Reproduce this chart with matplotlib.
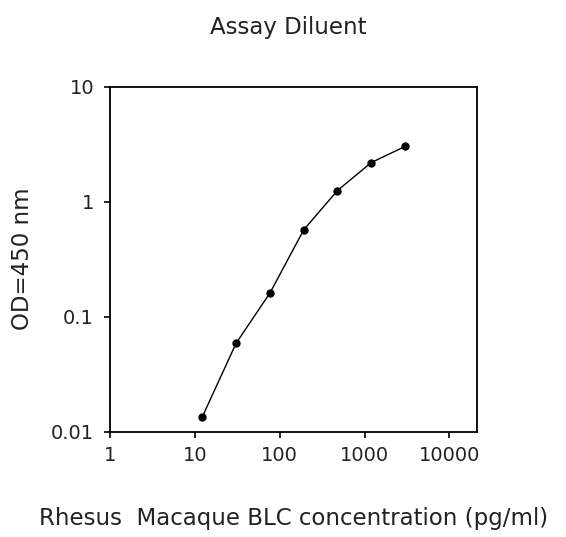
import matplotlib
matplotlib.use("Agg")
import matplotlib.pyplot as plt
from matplotlib.ticker import FixedLocator, FixedFormatter, NullLocator

# standard curve values
conc = [12.3, 30.7, 76.8, 192, 480, 1200, 3000]
od = [0.0135, 0.0587, 0.160, 0.567, 1.246, 2.18, 3.01]

x_ticks = [1, 10, 100, 1000, 10000]
x_labels = ["1", "10", "100", "1000", "10000"]
y_ticks = [0.01, 0.1, 1, 10]
y_labels = ["0.01", "0.1", "1", "10"]

plt.rcParams['font.family'] = ['DejaVu Sans']

fig = plt.figure(figsize=(5.66, 5.37), dpi=100)
ax = fig.add_axes([110 / 566, 1 - 431.5 / 537, (477 - 110) / 566, (431.5 - 86.5) / 537])

ax.plot(conc, od, color='black', lw=1.0, marker='o', markersize=5)

ax.set_xscale('log')
ax.set_yscale('log')
ax.set_xlim(1, 10 ** ((477 - 109.3) / 85))
ax.set_ylim(0.01, 10)

ax.xaxis.set_major_locator(FixedLocator(x_ticks))
ax.xaxis.set_major_formatter(FixedFormatter(x_labels))
ax.xaxis.set_minor_locator(NullLocator())
ax.yaxis.set_major_locator(FixedLocator(y_ticks))
ax.yaxis.set_major_formatter(FixedFormatter(y_labels))
ax.yaxis.set_minor_locator(NullLocator())

ax.tick_params(direction='out', length=4.5, width=1.2, labelsize=14, labelcolor='#222222')
ax.tick_params(axis='x', pad=6)
ax.tick_params(axis='y', pad=7)
for s in ax.spines.values():
    s.set_linewidth(1.3)

ax.set_xlabel('Rhesus  Macaque BLC concentration (pg/ml)', fontsize=16.5, labelpad=30, color='#222222')
ax.set_ylabel('OD=450 nm', fontsize=16.5, labelpad=12, color='#222222')
fig.text(288 / 566, 1 - 28 / 537, 'Assay Diluent', fontsize=16.5, ha='center', va='center', color='#222222')

fig.savefig('out.png', dpi=100)
